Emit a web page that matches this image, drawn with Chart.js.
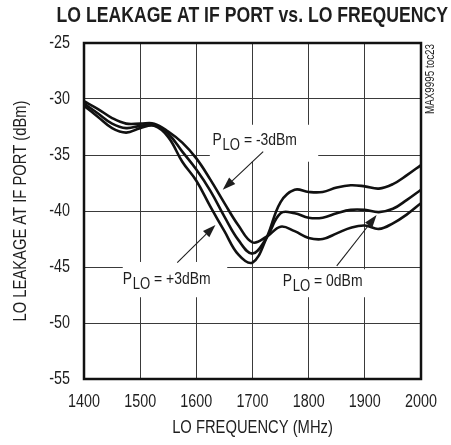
<!DOCTYPE html>
<html><head><meta charset="utf-8">
<script src="https://cdn.jsdelivr.net/npm/chart.js@4.4.1/dist/chart.umd.min.js"></script>
<style>html,body{margin:0;padding:0;background:#fff;}#wrap{width:451px;height:445px;}</style>
</head><body><div id="wrap"><canvas id="c" width="451" height="445"></canvas></div>
<script>
// ---- data ----
const freqMHz = [1400,1425,1450,1475,1500,1525,1550,1575,1600,1625,1650,1675,1700,1725,1750,1775,1800,1825,1850,1875,1900,1925,1950,1975,2000];
const leakPlus3 = [-30.6,-31.6,-32.6,-33.0,-32.6,-32.4,-33.4,-35.6,-37.3,-39.6,-41.8,-43.9,-44.6,-42.4,-39.2,-38.1,-38.3,-38.3,-37.9,-37.7,-37.8,-38.0,-37.6,-36.8,-35.9];
const leak0     = [-30.4,-31.3,-32.2,-32.6,-32.4,-32.3,-33.1,-34.7,-36.3,-38.2,-40.5,-42.6,-43.8,-42.4,-40.2,-40.2,-40.6,-40.6,-40.2,-39.9,-39.9,-40.1,-39.8,-39.0,-38.1];
const leakMinus3= [-30.2,-30.9,-31.7,-32.2,-32.2,-32.2,-32.9,-33.9,-35.3,-37.2,-39.3,-41.3,-42.8,-42.3,-41.4,-41.8,-42.4,-42.5,-42.0,-41.5,-41.3,-41.6,-41.1,-40.3,-39.3];
const xTickValues = [1400,1500,1600,1700,1800,1900,2000];
const yTickValues = [-55,-50,-45,-40,-35,-30,-25];
const seriesNames = ['PLO = +3dBm','PLO = 0dBm','PLO = -3dBm'];

const FAM = '"Liberation Sans", Arial, Helvetica, sans-serif';
const TXT = '#1e1e1e';
const SX = 0.82; // narrow (condensed) look of the reference typeface

// annotations in data units
const notes = [
  {sign:'-3dBm', at:[1629,-34.1], box:[1624,1817,-32.3,-35.6], arrow:[[1719,-34.7],[1647,-38.1]]},
  {sign:'+3dBm', at:[1469,-46.5], box:[1469,1655,-44.55,-47.7], arrow:[[1566,-44.6],[1634,-41.25]]},
  {sign:'0dBm',  at:[1754,-46.7], box:[1749,1936,-45.2,-47.7], arrow:[[1850,-44.9],[1921,-40.36]]}
];

function toPts(vals){return freqMHz.map((f,i)=>({x:f,y:vals[i]}));}

// condense all text drawn on this canvas horizontally
const canvas=document.getElementById('c');
const c2d=canvas.getContext('2d');
const _fill=c2d.fillText.bind(c2d), _meas=c2d.measureText.bind(c2d);
c2d.fillText=function(t,x,y){this.save();this.translate(x,y);this.scale(SX,1);_fill(t,0,0);this.restore();};
c2d.measureText=function(t){const m=_meas(t);return {width:m.width*SX,actualBoundingBoxAscent:m.actualBoundingBoxAscent,actualBoundingBoxDescent:m.actualBoundingBoxDescent,actualBoundingBoxLeft:m.actualBoundingBoxLeft*SX,actualBoundingBoxRight:m.actualBoundingBoxRight*SX,fontBoundingBoxAscent:m.fontBoundingBoxAscent,fontBoundingBoxDescent:m.fontBoundingBoxDescent};};

const annot = {
  id:'annot',
  beforeDatasetsDraw(chart){
    const {ctx,scales:{x,y}}=chart;
    ctx.save();ctx.fillStyle='#fff';
    notes.forEach(n=>{
      const x0=x.getPixelForValue(n.box[0]),x1=x.getPixelForValue(n.box[1]);
      const y0=y.getPixelForValue(n.box[2]),y1=y.getPixelForValue(n.box[3]);
      ctx.fillRect(x0,y0,x1-x0,y1-y0);
    });
    ctx.restore();
  },
  afterDatasetsDraw(chart){
    const {ctx,scales:{x,y}}=chart;
    ctx.save();
    ctx.fillStyle=TXT;ctx.strokeStyle=TXT;ctx.textBaseline='alphabetic';ctx.textAlign='left';
    notes.forEach(n=>{
      let px=x.getPixelForValue(n.at[0]), py=y.getPixelForValue(n.at[1]);
      ctx.font='17px '+FAM; ctx.fillText('P',px,py); px+=ctx.measureText('P').width+0.6;
      ctx.font='16px '+FAM; ctx.fillText('LO',px,py+5); px+=ctx.measureText('LO').width;
      ctx.font='17px '+FAM; ctx.fillText(' = '+n.sign,px,py);
      const ax=x.getPixelForValue(n.arrow[0][0]), ay=y.getPixelForValue(n.arrow[0][1]);
      const bx=x.getPixelForValue(n.arrow[1][0]), by=y.getPixelForValue(n.arrow[1][1]);
      const ang=Math.atan2(by-ay,bx-ax), L=13, W=4.5;
      const cx=bx-L*Math.cos(ang), cy=by-L*Math.sin(ang);
      ctx.lineWidth=1.1;ctx.beginPath();ctx.moveTo(ax,ay);ctx.lineTo(cx,cy);ctx.stroke();
      ctx.beginPath();ctx.moveTo(bx,by);
      ctx.lineTo(cx+W*Math.sin(ang),cy-W*Math.cos(ang));
      ctx.lineTo(cx-W*Math.sin(ang),cy+W*Math.cos(ang));ctx.closePath();ctx.fill();
    });
    ctx.restore();
  },
  afterDraw(chart){
    const {ctx,chartArea:a}=chart;
    ctx.save();
    ctx.strokeStyle='#111';ctx.lineWidth=2.5;
    ctx.strokeRect(a.left,a.top,a.right-a.left,a.bottom-a.top);
    ctx.translate(a.right+10,a.top+36);ctx.rotate(-Math.PI/2);
    ctx.fillStyle=TXT;ctx.textAlign='center';ctx.textBaseline='middle';
    ctx.font='12px '+FAM;ctx.fillText('MAX9995 toc23',0,0);
    ctx.restore();
  }
};

const lineStyle={borderColor:'#111',borderWidth:2.6,pointRadius:0,tension:0.4,fill:false};
new Chart(c2d,{
  type:'line',
  data:{datasets:[
    Object.assign({label:seriesNames[0],data:toPts(leakPlus3)},lineStyle),
    Object.assign({label:seriesNames[1],data:toPts(leak0)},lineStyle),
    Object.assign({label:seriesNames[2],data:toPts(leakMinus3)},lineStyle)
  ]},
  options:{
    responsive:false,animation:false,devicePixelRatio:1,
    layout:{padding:{left:0,right:3,top:0,bottom:0}},
    plugins:{
      legend:{display:false},tooltip:{enabled:false},
      title:{display:true,text:'LO LEAKAGE AT IF PORT vs. LO FREQUENCY',color:TXT,
        font:{family:FAM,size:21.5,weight:'bold'},padding:{top:3.1,bottom:14.1},align:'end'}
    },
    scales:{
      x:{type:'linear',min:1400,max:2000,
        afterBuildTicks:s=>{s.ticks=xTickValues.map(v=>({value:v}));},
        afterFit:s=>{s.height=66;},
        ticks:{color:TXT,font:{family:FAM,size:17.5},padding:13,maxRotation:0,autoSkip:false,callback:v=>String(v)},
        grid:{color:'#3a3a3a',lineWidth:1,drawTicks:false},border:{display:false},
        title:{display:true,text:'LO FREQUENCY (MHz)',color:TXT,font:{family:FAM,size:18},padding:{top:0,bottom:6.2}}},
      y:{type:'linear',min:-55,max:-25,
        afterBuildTicks:s=>{s.ticks=yTickValues.map(v=>({value:v}));},
        afterFit:s=>{s.width=84;},
        ticks:{color:TXT,font:{family:FAM,size:17.5},padding:14,autoSkip:false,callback:v=>String(v)},
        grid:{color:'#3a3a3a',lineWidth:1,drawTicks:false},border:{display:false},
        title:{display:true,text:'LO LEAKAGE AT IF PORT (dBm)',color:TXT,font:{family:FAM,size:18},padding:{top:10.2,bottom:0}}},
      side:{type:'linear',position:'right',min:-55,max:-25,
        afterFit:s=>{s.width=27;},
        ticks:{display:false},grid:{display:false},border:{display:false}}
    }
  },
  plugins:[annot]
});
</script></body></html>
